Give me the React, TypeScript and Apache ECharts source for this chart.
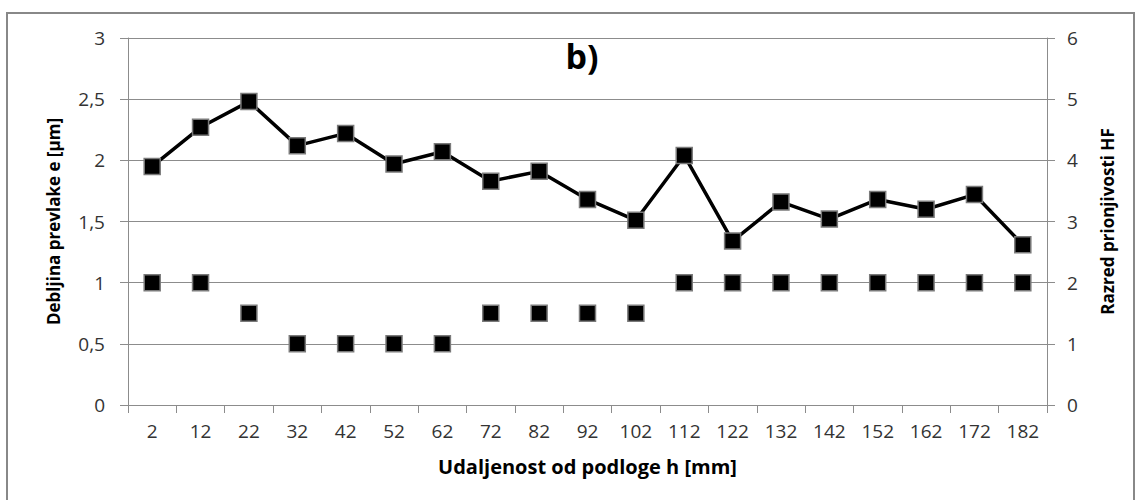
import React, { useEffect, useRef } from "react";
import * as echarts from "echarts";

const categories = ["2", "12", "22", "32", "42", "52", "62", "72", "82", "92", "102", "112", "122", "132", "142", "152", "162", "172", "182"];
const thickness = [1.95, 2.27, 2.48, 2.12, 2.22, 1.97, 2.07, 1.83, 1.91, 1.68, 1.51, 2.04, 1.34, 1.66, 1.52, 1.68, 1.6, 1.72, 1.31];
const adhesionClass = [2, 2, 1.5, 1, 1, 1, 1, 1.5, 1.5, 1.5, 1.5, 2, 2, 2, 2, 2, 2, 2, 2];
const leftTitle = "Debljina prevlake e [µm]";
const rightTitle = "Razred prionjivosti HF";
const xTitle = "Udaljenost od podloge h [mm]";
const chartTitle = "b)";

const FONT = "Open Sans";
const GRID = "#8c8c8c";

export default function App() {
  const ref = useRef<HTMLDivElement>(null);
  useEffect(() => {
    if (!ref.current) return;
    const chart = echarts.init(ref.current, null, { renderer: "svg" });
    const markerStyle = { color: "#000", borderColor: "#7a7a7a", borderWidth: 1.5, opacity: 1 };
    chart.setOption({
      animation: false,
      backgroundColor: "#fff",
      title: {
        text: chartTitle,
        left: 577,
        top: 34,
        textAlign: "center",
        textStyle: { fontFamily: FONT, fontWeight: "bold", fontSize: 34, color: "#000" },
      },
      graphic: [
        {
          type: "rect",
          shape: { x: 7, y: 13, width: 1127, height: 520 },
          style: { fill: "none", stroke: "#888", lineWidth: 2 },
          silent: true,
        },
      ],
      grid: { left: 128, right: 92, top: 38, bottom: 95, outerBoundsMode: "none", containLabel: false },
      xAxis: {
        type: "category",
        data: categories,
        boundaryGap: true,
        axisLine: { show: true, lineStyle: { color: GRID, width: 1 } },
        axisTick: { show: true, interval: 0, length: 8, lineStyle: { color: GRID } },
        axisLabel: { interval: 0, margin: 16, fontFamily: FONT, fontSize: 19, color: "#333" },
        name: xTitle,
        nameLocation: "middle",
        nameGap: 51,
        nameTextStyle: { fontFamily: FONT, fontWeight: "bold", fontSize: 20, color: "#000" },
        splitLine: { show: false },
      },
      yAxis: [
        {
          type: "value",
          min: 0,
          max: 3,
          interval: 0.5,
          axisLine: { show: true, lineStyle: { color: GRID, width: 1 } },
          axisTick: { show: true, length: 8, lineStyle: { color: GRID } },
          axisLabel: {
            margin: 23,
            fontFamily: FONT,
            fontSize: 19,
            color: "#333",
            formatter: (v: number) => String(v).replace(".", ","),
          },
          splitLine: { show: true, lineStyle: { color: GRID, width: 1 } },
          name: leftTitle,
          nameLocation: "middle",
          nameGap: 66,
          nameRotate: 90,
          nameTextStyle: { fontFamily: FONT, fontWeight: "bold", fontSize: 17, color: "#000" },
        },
        {
          type: "value",
          min: 0,
          max: 6,
          interval: 1,
          position: "right",
          axisLine: { show: true, lineStyle: { color: GRID, width: 1 } },
          axisTick: { show: true, length: 8, lineStyle: { color: GRID } },
          axisLabel: { margin: 20, fontFamily: FONT, fontSize: 19, color: "#333" },
          splitLine: { show: false },
          name: rightTitle,
          nameLocation: "middle",
          nameGap: 52,
          nameRotate: 90,
          nameTextStyle: { fontFamily: FONT, fontWeight: "bold", fontSize: 17, color: "#000" },
        },
      ],
      series: [
        {
          type: "line",
          data: thickness,
          yAxisIndex: 0,
          symbol: "rect",
          symbolSize: 16,
          showAllSymbol: true,
          lineStyle: { color: "#000", width: 3.5 },
          itemStyle: markerStyle,
          z: 3,
        },
        {
          type: "scatter",
          data: adhesionClass,
          yAxisIndex: 1,
          symbol: "rect",
          symbolSize: 16,
          itemStyle: markerStyle,
          z: 3,
        },
      ],
    });
    return () => chart.dispose();
  }, []);
  return <div ref={ref} style={{ position: "fixed", left: 0, top: 0, width: 1139, height: 500 }} />;
}
